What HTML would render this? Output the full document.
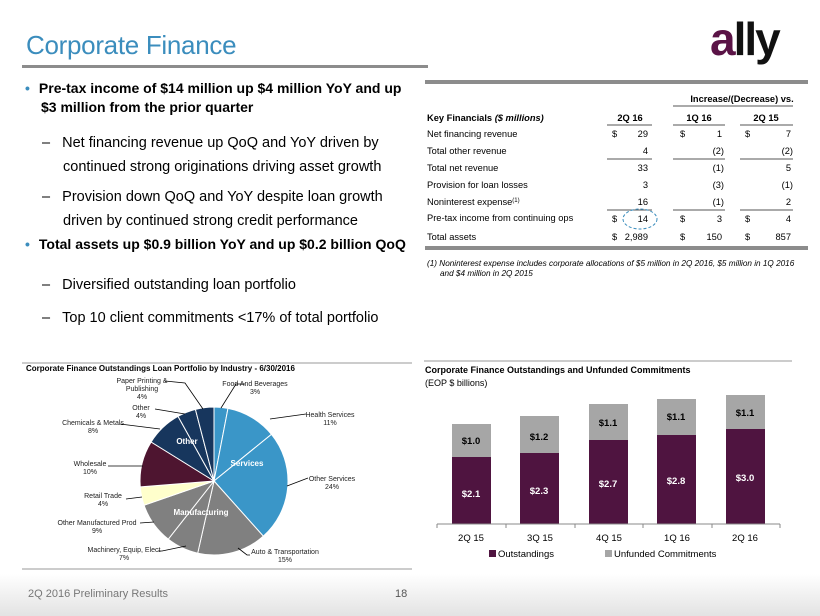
<!DOCTYPE html>
<html><head><meta charset="utf-8"><style>
body{margin:0;width:820px;height:616px;position:relative;background:#fff;font-family:"Liberation Sans",Arial,sans-serif;overflow:hidden;color:#000}
.a{position:absolute;white-space:nowrap}
.s{font-size:14.5px;line-height:24px}
</style></head><body>
<div class="a" style="left:26px;top:30px;font-size:26px;color:#3b8dbd;letter-spacing:-0.3px">Corporate Finance</div>
<div class="a" style="left:22px;top:65px;width:406px;height:3px;background:#8c8c8c"></div>
<div class="a" style="left:710px;top:16px;font-size:46px;font-weight:bold;color:#5a1346;letter-spacing:-2px;line-height:46px">a<span style="color:#111">lly</span></div>
<div class="a" style="left:425px;top:80px;width:383px;height:4px;background:#8c8c8c"></div>
<div class="a" style="left:425px;top:246px;width:383px;height:4px;background:#8c8c8c"></div>

<div class="a" style="left:25px;top:79px;font-size:14px;font-weight:bold;line-height:19px"><span style="color:#3b8dbd;margin-right:9px">•</span>Pre-tax income of $14 million up $4 million YoY and up<br><span style="margin-left:16px">$3 million from the prior quarter</span></div>
<div class="a s" style="left:42px;top:131px">–&nbsp;&nbsp;&nbsp;Net financing revenue up QoQ and YoY driven by<br><span style="margin-left:21px">continued strong originations driving asset growth</span></div>
<div class="a s" style="left:42px;top:185px">–&nbsp;&nbsp;&nbsp;Provision down QoQ and YoY despite loan growth<br><span style="margin-left:21px">driven by continued strong credit performance</span></div>
<div class="a" style="left:25px;top:236px;font-size:14px;font-weight:bold"><span style="color:#3b8dbd;margin-right:9px">•</span>Total assets up $0.9 billion YoY and up $0.2 billion QoQ</div>
<div class="a s" style="left:42px;top:273px">–&nbsp;&nbsp;&nbsp;Diversified outstanding loan portfolio</div>
<div class="a s" style="left:42px;top:306px">–&nbsp;&nbsp;&nbsp;Top 10 client commitments &lt;17% of total portfolio</div>

<svg class="a" style="left:0;top:0" width="820" height="616">
<g font-size="9.3" font-family="Liberation Sans,Arial,sans-serif">
<text x="742" y="102" text-anchor="middle" font-weight="bold">Increase/(Decrease) vs.</text>
<line x1="673" y1="106" x2="793" y2="106" stroke="#555"/>
<text x="427" y="121" font-weight="bold">Key Financials <tspan font-style="italic">($ millions)</tspan></text>
<text x="630" y="121" text-anchor="middle" font-weight="bold">2Q 16</text>
<text x="699" y="121" text-anchor="middle" font-weight="bold">1Q 16</text>
<text x="766" y="121" text-anchor="middle" font-weight="bold">2Q 15</text>
<g stroke="#555"><line x1="607" y1="125" x2="652" y2="125"/><line x1="673" y1="125" x2="725" y2="125"/><line x1="740" y1="125" x2="793" y2="125"/>
<line x1="607" y1="159" x2="652" y2="159"/><line x1="673" y1="159" x2="725" y2="159"/><line x1="740" y1="159" x2="793" y2="159"/>
<line x1="607" y1="210" x2="652" y2="210"/><line x1="673" y1="210" x2="725" y2="210"/><line x1="740" y1="210" x2="793" y2="210"/></g>
<text x="427" y="137">Net financing revenue</text><text x="612" y="137">$</text><text x="648" y="137" text-anchor="end">29</text><text x="680" y="137">$</text><text x="722" y="137" text-anchor="end">1</text><text x="745" y="137">$</text><text x="791" y="137" text-anchor="end">7</text>
<text x="427" y="154">Total other revenue</text><text x="648" y="154" text-anchor="end">4</text><text x="724" y="154" text-anchor="end">(2)</text><text x="793" y="154" text-anchor="end">(2)</text>
<text x="427" y="171">Total net revenue</text><text x="648" y="171" text-anchor="end">33</text><text x="724" y="171" text-anchor="end">(1)</text><text x="791" y="171" text-anchor="end">5</text>
<text x="427" y="188">Provision for loan losses</text><text x="648" y="188" text-anchor="end">3</text><text x="724" y="188" text-anchor="end">(3)</text><text x="793" y="188" text-anchor="end">(1)</text>
<text x="427" y="205">Noninterest expense<tspan font-size="6" dy="-3">(1)</tspan></text><text x="648" y="205" text-anchor="end">16</text><text x="724" y="205" text-anchor="end">(1)</text><text x="791" y="205" text-anchor="end">2</text>
<text x="427" y="221">Pre-tax income from continuing ops</text><text x="612" y="222">$</text><text x="648" y="222" text-anchor="end">14</text><text x="680" y="222">$</text><text x="722" y="222" text-anchor="end">3</text><text x="745" y="222">$</text><text x="791" y="222" text-anchor="end">4</text>
<ellipse cx="640" cy="219" rx="17" ry="10" fill="none" stroke="#3b8dbd" stroke-dasharray="3,2"/>
<text x="427" y="240">Total assets</text><text x="612" y="240">$</text><text x="648" y="240" text-anchor="end">2,989</text><text x="680" y="240">$</text><text x="722" y="240" text-anchor="end">150</text><text x="745" y="240">$</text><text x="791" y="240" text-anchor="end">857</text>
<text x="427" y="266" font-size="8.2" font-style="italic">(1)  Noninterest expense includes corporate allocations of $5 million in 2Q 2016, $5 million in 1Q 2016</text>
<text x="440" y="276" font-size="8.2" font-style="italic">and $4 million in 2Q 2015</text>
</g>
<line x1="22" y1="363" x2="412" y2="363" stroke="#999"/>
<line x1="22" y1="569" x2="412" y2="569" stroke="#999"/>
<line x1="424" y1="361" x2="792" y2="361" stroke="#999"/>
<text x="26" y="371" font-size="8" font-weight="bold" font-family="Liberation Sans,Arial">Corporate Finance Outstandings Loan Portfolio by Industry - 6/30/2016</text>
<g id="pie"></g>
<g font-size="7" font-family="Liberation Sans,Arial" text-anchor="middle" fill="#222">
<text x="255" y="386">Food And Beverages</text><text x="255" y="394">3%</text>
<text x="330" y="417">Health Services</text><text x="330" y="425">11%</text>
<text x="332" y="481">Other Services</text><text x="332" y="489">24%</text>
<text x="285" y="554">Auto &amp; Transportation</text><text x="285" y="562">15%</text>
<text x="124" y="552">Machinery, Equip, Elect</text><text x="124" y="560">7%</text>
<text x="97" y="525">Other Manufactured Prod</text><text x="97" y="533">9%</text>
<text x="103" y="498">Retail Trade</text><text x="103" y="506">4%</text>
<text x="90" y="466">Wholesale</text><text x="90" y="474">10%</text>
<text x="93" y="425">Chemicals &amp; Metals</text><text x="93" y="433">8%</text>
<text x="141" y="410">Other</text><text x="141" y="418">4%</text>
<text x="142" y="383">Paper Printing &amp;</text><text x="142" y="391">Publishing</text><text x="142" y="399">4%</text>
</g>
<g stroke="#000" stroke-width="0.8" fill="none">
<polyline points="221,408 236,384 245,384"/><polyline points="270,419 306,414"/><polyline points="287,486 308,478"/>
<polyline points="238,548 247,555 250,555"/><polyline points="186,546 162,551 158,551"/><polyline points="154,522 140,523"/>
<polyline points="142,497 126,499"/><polyline points="143,466 108,466"/><polyline points="160,429 120,424"/>
<polyline points="185,414 155,409"/><polyline points="203,409 185,383 165,381"/>
</g>
<g font-size="8" font-weight="bold" fill="#fff" text-anchor="middle" font-family="Liberation Sans,Arial">
<text x="187" y="444">Other</text><text x="247" y="466">Services</text><text x="201" y="515">Manufacturing</text>
</g>

<text x="425" y="373" font-size="9" font-weight="bold" font-family="Liberation Sans,Arial">Corporate Finance Outstandings and Unfunded Commitments</text>
<text x="425" y="386" font-size="9" font-family="Liberation Sans,Arial">(EOP $ billions)</text>
<g>
<rect x="452" y="424" width="39" height="33" fill="#a6a6a6"/><rect x="452" y="457" width="39" height="67" fill="#4f1440"/>
<rect x="520" y="416" width="39" height="37" fill="#a6a6a6"/><rect x="520" y="453" width="39" height="71" fill="#4f1440"/>
<rect x="589" y="404" width="39" height="36" fill="#a6a6a6"/><rect x="589" y="440" width="39" height="84" fill="#4f1440"/>
<rect x="657" y="399" width="39" height="36" fill="#a6a6a6"/><rect x="657" y="435" width="39" height="89" fill="#4f1440"/>
<rect x="726" y="395" width="39" height="34" fill="#a6a6a6"/><rect x="726" y="429" width="39" height="95" fill="#4f1440"/>
</g>
<g stroke="#888"><line x1="437" y1="524" x2="780" y2="524"/>
<line x1="437" y1="524" x2="437" y2="528"/><line x1="506" y1="524" x2="506" y2="528"/><line x1="575" y1="524" x2="575" y2="528"/><line x1="643" y1="524" x2="643" y2="528"/><line x1="712" y1="524" x2="712" y2="528"/><line x1="780" y1="524" x2="780" y2="528"/></g>
<g font-size="9.5" font-weight="bold" text-anchor="middle" font-family="Liberation Sans,Arial">
<text x="471" y="444" fill="#000">$1.0</text><text x="539" y="440">$1.2</text><text x="608" y="426">$1.1</text><text x="676" y="420">$1.1</text><text x="745" y="416">$1.1</text>
<g fill="#fff"><text x="471" y="497">$2.1</text><text x="539" y="494">$2.3</text><text x="608" y="487">$2.7</text><text x="676" y="484">$2.8</text><text x="745" y="481">$3.0</text></g>
</g>
<g font-size="9.5" text-anchor="middle" font-family="Liberation Sans,Arial">
<text x="471" y="541">2Q 15</text><text x="540" y="541">3Q 15</text><text x="609" y="541">4Q 15</text><text x="677" y="541">1Q 16</text><text x="745" y="541">2Q 16</text></g>
<rect x="489" y="550" width="7" height="7" fill="#4f1440"/><text x="498" y="557" font-size="9.5" font-family="Liberation Sans,Arial">Outstandings</text>
<rect x="605" y="550" width="7" height="7" fill="#a6a6a6"/><text x="614" y="557" font-size="9.5" font-family="Liberation Sans,Arial">Unfunded Commitments</text>
<defs><linearGradient id="g" x1="0" y1="0" x2="0" y2="1"><stop offset="0" stop-color="#fff"/><stop offset="1" stop-color="#e3e3e3"/></linearGradient></defs>
<rect x="0" y="574" width="820" height="42" fill="url(#g)"/>
<text x="28" y="597" font-size="11" fill="#777" font-family="Liberation Sans,Arial">2Q 2016 Preliminary Results</text>
<text x="395" y="597" font-size="11" fill="#555" font-family="Liberation Sans,Arial">18</text>
</svg>
<script>
var d=[[3,'#3a96c8'],[11,'#3a96c8'],[24,'#3a96c8'],[15,'#808080'],[7,'#808080'],[9,'#808080'],[4,'#ffffcc'],[10,'#4e1530'],[8,'#17365d'],[4,'#17365d'],[4,'#17365d']];
var cx=214,cy=481,r=74,tot=99,a=0,s='';
d.forEach(function(e){var a1=a+e[0]/tot*2*Math.PI;
var x0=cx+r*Math.sin(a),y0=cy-r*Math.cos(a),x1=cx+r*Math.sin(a1),y1=cy-r*Math.cos(a1);
s+='<path d="M'+cx+','+cy+' L'+x0.toFixed(2)+','+y0.toFixed(2)+' A'+r+','+r+' 0 '+(a1-a>Math.PI?1:0)+' 1 '+x1.toFixed(2)+','+y1.toFixed(2)+' Z" fill="'+e[1]+'" stroke="#fff" stroke-width="1"/>';a=a1;});
document.getElementById('pie').innerHTML=s;
</script>
</body></html>
